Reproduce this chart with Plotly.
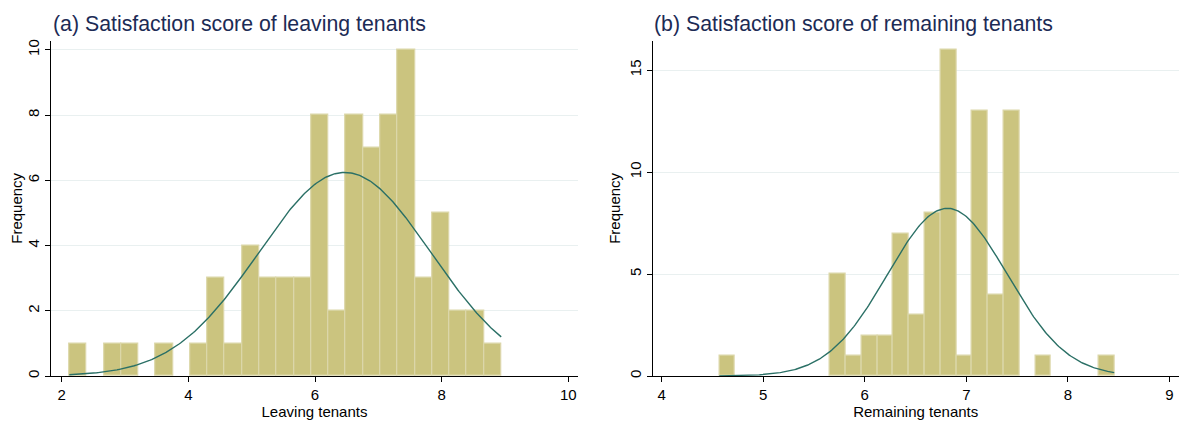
import numpy as np
import plotly.graph_objects as go

# ---------------- data ----------------
# Panel (a): leaving tenants, 25 equal-width bins
leave_start = 2.12
leave_width = 0.2728
leave_counts = [1, 0, 1, 1, 0, 1, 0, 1, 3, 1, 4, 3, 3, 3, 8, 2, 8, 7, 8, 10, 3, 5, 2, 2, 1]
leave_mean = 6.47
leave_sd = 1.36

# Panel (b): remaining tenants, 25 equal-width bins
remain_start = 4.567
remain_width = 0.1556
remain_counts = [1, 0, 0, 0, 0, 0, 0, 5, 1, 2, 2, 7, 3, 8, 16, 1, 13, 4, 13, 0, 1, 0, 0, 0, 1]
remain_mean = 6.813
remain_sd = 0.589

left_ticks_x = [2, 4, 6, 8, 10]
left_ticks_y = [0, 2, 4, 6, 8, 10]
right_ticks_x = [4, 5, 6, 7, 8, 9]
right_ticks_y = [0, 5, 10, 15]

titles = ["(a) Satisfaction score of leaving tenants", "(b) Satisfaction score of remaining tenants"]
xtitles = ["Leaving tenants", "Remaining tenants"]

BAR = "#cbc47f"
BAR_LINE = "#dcd7aa"
CURVE = "#2b7066"
GRID = "#e9f0f0"
TITLE_C = "#1c2b55"
FONT = "Liberation Sans, Arial, sans-serif"

# page body margin offset (px) and figure size
OFF = 8
W, H = 1192 - OFF, 444 - OFF

fig = go.Figure()


def add_panel(start, width, counts, mean, sd, xa, ya):
    n = len(counts)
    edges = start + width * np.arange(n + 1)
    centers = (edges[:-1] + edges[1:]) / 2
    shown = [c if c > 0 else None for c in counts]
    fig.add_trace(go.Bar(
        x=centers, y=shown, width=width, xaxis=xa, yaxis=ya,
        marker=dict(color=BAR, line=dict(color=BAR_LINE, width=1.2)),
        showlegend=False, hoverinfo="x+y"))
    total = sum(counts)
    xs = np.linspace(edges[0], edges[-1], 300)
    ys = total * width * np.exp(-0.5 * ((xs - mean) / sd) ** 2) / (sd * np.sqrt(2 * np.pi))
    fig.add_trace(go.Scatter(
        x=xs, y=ys, mode="lines", xaxis=xa, yaxis=ya,
        line=dict(color=CURVE, width=1.4), showlegend=False, hoverinfo="skip"))


add_panel(leave_start, leave_width, leave_counts, leave_mean, leave_sd, "x", "y")
add_panel(remain_start, remain_width, remain_counts, remain_mean, remain_sd, "x2", "y2")


def xd(a, b):
    return [(a - OFF) / W, (b - OFF) / W]


ydom = [(444 - 376) / H, (444 - 40.7) / H]
common_x = dict(showline=True, linecolor="black", linewidth=1.3, ticks="outside", ticklen=5,
                tickcolor="black", tickwidth=1, showgrid=False, zeroline=False, automargin=False,
                tickfont=dict(family=FONT, size=15, color="black"),
                title_font=dict(family=FONT, size=15, color="black"), title_standoff=0)
common_y = dict(showline=True, linecolor="black", linewidth=1.3, ticks="outside", ticklen=5,
                tickcolor="black", tickwidth=1, showgrid=True, gridcolor=GRID, gridwidth=1,
                zeroline=False, tickangle=-90, automargin=False,
                tickfont=dict(family=FONT, size=15, color="black"),
                title_font=dict(family=FONT, size=15, color="black"), title_standoff=2)

fig.update_layout(
    width=W, height=H,
    margin=dict(l=0, r=0, t=0, b=0, autoexpand=False),
    paper_bgcolor="white", plot_bgcolor="white",
    bargap=0, barmode="overlay",
    font=dict(family=FONT),
    xaxis=dict(domain=xd(51.3, 577.7), range=[1.836, 10.148], tickvals=left_ticks_x,
               title_text=xtitles[0], anchor="y", **common_x),
    yaxis=dict(domain=ydom, range=[0, 10.28], tickvals=left_ticks_y,
               title_text="Frequency", anchor="x", **common_y),
    xaxis2=dict(domain=xd(652.7, 1178.7), range=[3.911, 9.092], tickvals=right_ticks_x,
                title_text=xtitles[1], anchor="y2", **common_x),
    yaxis2=dict(domain=ydom, range=[0, 16.44], tickvals=right_ticks_y,
                title_text="Frequency", anchor="x2", **common_y),
    annotations=[
        dict(text=titles[0], x=(51 - OFF) / W, y=1 - (24 - OFF) / H, xref="paper", yref="paper",
             xanchor="left", yanchor="middle", showarrow=False,
             font=dict(family=FONT, size=21.3, color=TITLE_C)),
        dict(text=titles[1], x=(652 - OFF) / W, y=1 - (24 - OFF) / H, xref="paper", yref="paper",
             xanchor="left", yanchor="middle", showarrow=False,
             font=dict(family=FONT, size=21.3, color=TITLE_C)),
    ],
)

fig.write_html("out.html")
